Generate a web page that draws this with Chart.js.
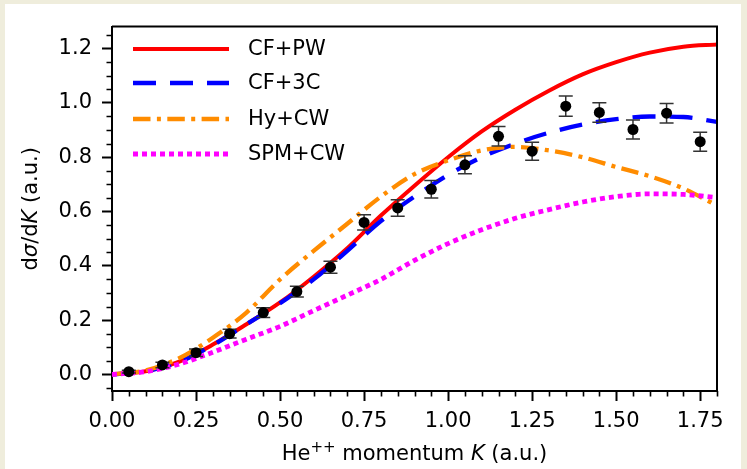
<!DOCTYPE html>
<html><head><meta charset="utf-8">
<script src="https://cdn.jsdelivr.net/npm/chart.js@4"></script>
<style>
html,body{margin:0;padding:0;background:#efeddc;width:747px;height:469px;overflow:hidden}
#wrap{position:absolute;left:5px;top:4px;width:736px;height:465px;background:#fff}
canvas{display:block}
</style></head><body>
<div id="wrap"><canvas id="c" width="736" height="465"></canvas></div>
<script>
// ---- data ----
const curveK = [0,0.1,0.2,0.3,0.4,0.5,0.6,0.7,0.8,0.9,1.0,1.1,1.2,1.3,1.4,1.5,1.6,1.7,1.8];
const cfpw  = [0,0.012,0.047,0.11,0.185,0.265,0.36,0.465,0.585,0.695,0.80,0.895,0.975,1.045,1.105,1.15,1.185,1.207,1.215];
const cf3c  = [0,0.012,0.046,0.108,0.185,0.262,0.35,0.455,0.565,0.655,0.735,0.80,0.85,0.89,0.92,0.94,0.95,0.948,0.93];
const hycw  = [0,0.015,0.06,0.135,0.228,0.35,0.455,0.555,0.655,0.738,0.788,0.825,0.838,0.825,0.80,0.764,0.73,0.685,0.622];
const spmcw = [0,0.01,0.038,0.082,0.13,0.177,0.235,0.292,0.35,0.42,0.482,0.533,0.575,0.607,0.635,0.655,0.665,0.663,0.651];
const expK   = [0.05,0.15,0.25,0.35,0.45,0.55,0.65,0.75,0.85,0.95,1.05,1.15,1.25,1.35,1.45,1.55,1.65,1.75];
const expVal = [0.01,0.035,0.08,0.15,0.228,0.305,0.395,0.56,0.613,0.682,0.772,0.877,0.822,0.988,0.965,0.902,0.962,0.857];
const expErr = [0.005,0.01,0.014,0.016,0.018,0.02,0.022,0.028,0.03,0.032,0.033,0.036,0.033,0.037,0.036,0.035,0.036,0.035];
const seriesLabels = ['CF+PW','CF+3C','Hy+CW','SPM+CW'];
const xRange = [0, 1.8];
const yRange = [-0.061, 1.281];

const FONT = "'DejaVu Sans', sans-serif";
const FS = 21;
const pts = (xs, ys) => xs.map((x, i) => ({x: x, y: ys[i]}));

function curve(label, ys, color, dash, width, order) {
  return {label: label, data: pts(curveK, ys), borderColor: color, backgroundColor: color,
    borderWidth: width, borderDash: dash, pointRadius: 0, fill: false,
    cubicInterpolationMode: 'monotone', order: order, borderCapStyle: 'butt'};
}

const errorBars = {
  id: 'errorBars',
  beforeDatasetDraw(chart, args) {
    if (args.meta.type !== 'scatter') return;
    const {ctx, scales: {x, y}} = chart;
    ctx.save();
    ctx.strokeStyle = '#333';
    ctx.lineWidth = 1.5;
    expK.forEach((k, i) => {
      const px = x.getPixelForValue(k);
      const y1 = y.getPixelForValue(expVal[i] - expErr[i]);
      const y2 = y.getPixelForValue(expVal[i] + expErr[i]);
      ctx.beginPath();
      ctx.moveTo(px, y1); ctx.lineTo(px, y2);
      ctx.moveTo(px - 7, y1); ctx.lineTo(px + 7, y1);
      ctx.moveTo(px - 7, y2); ctx.lineTo(px + 7, y2);
      ctx.stroke();
    });
    ctx.restore();
  }
};

function drawSegments(ctx, segs, x, y, align) {
  // segs: [{t, style, size, dy}]
  let total = 0;
  segs.forEach(s => { ctx.font = (s.style || '') + ' ' + (s.size || FS) + 'px ' + FONT; s.w = ctx.measureText(s.t).width; total += s.w; });
  let cx = align === 'center' ? x - total / 2 : x;
  segs.forEach(s => {
    ctx.font = (s.style || '') + ' ' + (s.size || FS) + 'px ' + FONT;
    ctx.fillText(s.t, cx, y + (s.dy || 0));
    cx += s.w;
  });
}

const frame = {
  id: 'frame',
  afterDraw(chart) {
    const {ctx, chartArea: a, scales: {x, y}} = chart;
    ctx.save();
    ctx.strokeStyle = '#000';
    ctx.lineWidth = 2;
    ctx.beginPath();
    ctx.moveTo(a.left, a.top); ctx.lineTo(a.right, a.top); ctx.lineTo(a.right, a.bottom);
    ctx.stroke();
    // minor ticks
    ctx.lineWidth = 1.6;
    ctx.beginPath();
    for (let i = 0; i <= 36; i++) {
      if (i % 5 === 0) continue;
      const px = Math.round(x.getPixelForValue(i * 0.05)) + 0.5;
      ctx.moveTo(px, a.bottom); ctx.lineTo(px, a.bottom + 5.5);
    }
    for (let i = -1; i <= 25; i++) {
      if (i % 4 === 0) continue;
      const py = Math.round(y.getPixelForValue(i * 0.05)) + 0.5;
      ctx.moveTo(a.left, py); ctx.lineTo(a.left - 5.5, py);
    }
    ctx.stroke();
    // legend
    const rows = [45, 79, 115, 150];
    chart.data.datasets.slice(0, 4).forEach((ds, i) => {
      ctx.save();
      ctx.strokeStyle = ds.borderColor;
      ctx.lineWidth = ds.borderWidth;
      ctx.setLineDash(ds.borderDash || []);
      ctx.lineCap = 'butt';
      ctx.beginPath();
      ctx.moveTo(128, rows[i]); ctx.lineTo(224, rows[i]);
      ctx.stroke();
      ctx.restore();
      ctx.fillStyle = '#000';
      ctx.textBaseline = 'middle';
      ctx.font = FS + 'px ' + FONT;
      ctx.textAlign = 'left';
      ctx.fillText(ds.label, 243, rows[i] + 1);
    });
    // axis titles
    ctx.fillStyle = '#000';
    ctx.textBaseline = 'alphabetic';
    ctx.textAlign = 'left';
    drawSegments(ctx, [
      {t: 'He'}, {t: '++', size: 15, dy: -8}, {t: ' momentum '}, {t: 'K', style: 'oblique'}, {t: ' (a.u.)'}
    ], (a.left + a.right) / 2, 456, 'center');
    ctx.save();
    ctx.translate(32, (a.top + a.bottom) / 2);
    ctx.rotate(-Math.PI / 2);
    drawSegments(ctx, [
      {t: 'd'}, {t: 'σ', style: 'oblique'}, {t: '/d'}, {t: 'K', style: 'oblique'}, {t: ' (a.u.)'}
    ], 0, 0, 'center');
    ctx.restore();
    ctx.restore();
  }
};

new Chart(document.getElementById('c'), {
  type: 'line',
  data: {datasets: [
    curve(seriesLabels[0], cfpw, '#ff0000', [], 4, 4),
    curve(seriesLabels[1], cf3c, '#0000ff', [23, 14], 4.3, 3),
    curve(seriesLabels[2], hycw, '#ff8c00', [17.5, 6.4, 4, 6.4], 4.3, 2),
    curve(seriesLabels[3], spmcw, '#ff00ff', [5, 4], 4.8, 1),
    {label: 'exp', type: 'scatter', data: pts(expK, expVal), pointRadius: 5.5, pointHoverRadius: 5.5,
     backgroundColor: '#000', borderColor: '#000', borderWidth: 0, showLine: false, order: 0}
  ]},
  options: {
    responsive: false, animation: false, devicePixelRatio: 1,
    layout: {padding: {left: 0, right: 24, top: 12, bottom: 0}},
    plugins: {legend: {display: false}, tooltip: {enabled: false}},
    scales: {
      x: {type: 'linear', min: xRange[0], max: xRange[1],
        afterFit: s => { s.height = 78; },
        ticks: {stepSize: 0.25, includeBounds: false, autoSkip: false, maxRotation: 0,
          callback: v => v.toFixed(2), font: {family: FONT, size: FS}, color: '#000', padding: 8},
        grid: {drawOnChartArea: false, drawTicks: true, tickLength: 10, tickColor: '#000', tickWidth: 2},
        border: {display: true, color: '#000', width: 2}},
      y: {type: 'linear', min: yRange[0], max: yRange[1],
        afterFit: s => { s.width = 107; },
        ticks: {stepSize: 0.2, includeBounds: false, autoSkip: false,
          callback: v => (Math.abs(v) < 1e-9 ? 0 : v).toFixed(1), font: {family: FONT, size: FS}, color: '#000', padding: 10},
        grid: {drawOnChartArea: false, drawTicks: true, tickLength: 10, tickColor: '#000', tickWidth: 2},
        border: {display: true, color: '#000', width: 2}}
    }
  },
  plugins: [errorBars, frame]
});
</script>
</body></html>
